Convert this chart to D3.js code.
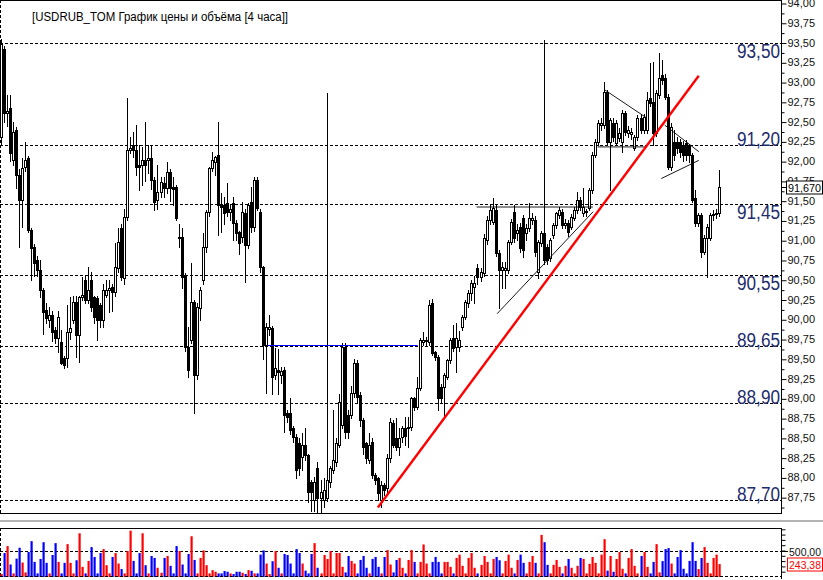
<!DOCTYPE html>
<html><head><meta charset="utf-8">
<script src="https://cdn.jsdelivr.net/npm/d3@7"></script>
<style>body{margin:0;background:#fff}svg{display:block}</style>
</head><body><svg id="c" width="823" height="580"></svg>
<script>
// ---------- data ----------
const title = "[USDRUB_TOM График цены и объёма [4 часа]]";
const opens = [
92.30,93.42,92.61,92.67,92.01,92.39,91.82,91.51,91.93,92.04,
91.13,90.91,90.75,90.62,90.37,90.12,89.99,90.05,89.86,89.76,
89.71,89.51,89.51,89.84,89.99,90.22,89.80,90.28,90.50,90.24,
90.50,90.28,90.27,90.18,89.99,90.31,90.37,90.41,90.34,90.65,
91.15,90.52,91.29,92.14,92.20,92.14,91.95,91.95,92.01,92.01,
92.04,91.76,91.51,91.61,91.72,91.66,91.86,91.67,91.67,91.03,
91.04,90.56,89.65,89.74,90.22,89.29,90.14,90.50,90.91,91.36,
91.91,91.99,92.08,91.44,91.44,91.47,91.36,91.47,91.22,91.10,
91.04,91.34,90.94,91.48,91.17,91.76,91.36,90.66,89.67,89.88,
89.89,89.29,89.36,89.30,89.36,88.81,88.81,88.62,88.51,88.43,
88.26,88.41,88.28,87.94,87.71,88.12,87.74,87.71,87.74,87.94,
88.09,88.19,88.41,88.66,89.65,88.79,88.79,89.07,89.45,89.04,
88.72,88.43,88.22,88.45,88.03,87.99,87.71,87.90,87.86,88.24,
88.69,88.50,88.38,88.51,88.62,88.62,88.64,89.00,88.89,89.13,
89.71,89.72,89.71,90.20,89.58,89.52,89.14,89.14,89.27,89.48,
89.76,89.65,89.65,89.90,90.03,90.20,90.33,90.41,90.65,90.53,
90.58,91.00,91.25,91.23,91.38,90.84,90.62,90.62,90.62,90.98,
91.36,91.09,91.17,91.28,91.09,91.15,91.25,91.25,90.60,90.96,
91.09,90.91,90.77,91.06,91.19,91.32,91.36,91.19,91.22,91.17,
91.28,91.38,91.51,91.34,91.36,91.41,91.63,92.08,92.24,92.46,
92.46,92.87,92.24,92.48,92.23,92.29,92.24,92.61,92.36,92.34,
92.17,92.30,92.55,92.39,92.39,92.80,92.75,92.36,92.84,93.09,
93.05,92.81,91.93,92.24,92.24,92.24,92.20,92.23,92.20,92.08,
91.53,91.22,91.32,90.85,91.03,91.03,91.32,91.33,91.34];
const highs = [
93.55,93.46,92.84,92.84,92.50,92.43,91.90,92.04,92.24,92.06,
91.15,90.95,90.80,90.75,90.40,90.20,90.15,90.10,89.90,90.10,
89.86,89.53,90.18,90.28,90.30,90.30,90.30,90.53,90.55,90.66,
90.60,90.30,90.30,90.20,90.45,90.50,90.50,90.45,90.97,91.15,
91.20,91.40,92.80,92.30,92.37,92.46,92.20,92.18,92.49,92.20,
92.20,91.80,91.95,91.80,91.80,91.99,91.90,91.80,91.70,91.20,
91.15,90.58,89.90,90.71,90.25,90.20,90.41,91.09,91.38,91.93,
92.11,92.07,92.49,91.60,91.55,91.72,91.45,91.55,91.25,91.12,
91.48,91.40,91.47,91.67,91.80,91.80,91.40,90.68,89.95,90.05,
89.92,89.64,89.62,89.40,89.40,88.85,89.00,88.65,88.55,88.50,
88.56,88.62,88.30,87.97,88.00,88.20,87.97,87.99,92.86,88.15,
88.85,88.50,89.05,89.70,89.70,88.85,89.15,89.50,89.48,89.08,
88.75,88.45,88.56,88.50,88.06,88.00,87.95,87.93,88.30,88.75,
88.72,88.75,88.62,88.65,88.76,88.76,89.02,89.02,89.27,89.76,
89.84,89.78,90.24,90.26,89.60,89.55,89.18,89.32,89.50,89.76,
89.93,89.95,89.85,90.05,90.25,90.37,90.50,90.55,90.70,90.65,
91.08,91.30,91.45,91.53,91.45,90.88,90.72,90.72,91.00,91.27,
91.45,91.20,91.22,91.32,91.20,91.47,91.35,91.30,91.00,91.12,
93.53,90.95,91.03,91.22,91.36,91.42,91.40,91.27,91.25,91.33,
91.42,91.61,91.55,91.66,91.40,91.66,92.12,92.28,92.52,92.55,
93.00,92.90,92.55,92.55,92.52,92.42,92.65,92.63,92.45,92.42,
92.33,92.58,92.58,92.60,92.87,93.24,93.25,92.90,93.37,93.28,
93.10,92.85,92.48,92.40,92.30,92.28,92.25,92.27,92.22,92.10,
91.63,91.35,91.35,91.06,91.20,91.35,91.38,91.40,91.89];
const lows = [
92.20,92.50,92.45,92.00,91.95,91.66,90.91,91.17,91.88,91.10,
90.50,90.55,90.55,90.28,89.82,89.95,89.90,89.73,89.70,89.58,
89.44,89.38,89.40,89.75,89.95,89.52,89.46,90.24,90.20,90.20,
90.10,89.95,89.74,89.90,89.90,90.28,90.09,90.10,90.30,90.60,
90.50,90.45,91.25,92.10,92.05,91.83,91.63,91.70,91.75,91.85,
91.65,91.38,91.40,91.55,91.55,91.60,91.50,91.45,91.25,90.91,
90.40,89.60,89.27,89.70,88.81,89.25,89.99,90.45,90.85,91.30,
91.88,91.82,91.06,91.10,91.20,91.30,91.25,91.00,91.00,90.82,
90.98,90.47,90.90,91.10,91.12,91.38,90.60,89.50,89.07,89.80,
89.06,89.25,89.06,89.20,88.57,88.70,88.55,88.45,87.99,88.03,
88.09,88.22,87.69,87.58,87.58,87.56,87.56,87.62,87.70,87.88,
88.05,88.15,88.38,88.62,88.50,88.50,88.75,89.02,88.95,88.65,
88.30,88.18,88.18,87.99,87.92,87.71,87.62,87.78,87.82,88.20,
88.38,88.35,88.28,88.45,88.41,88.38,88.60,88.85,88.86,89.10,
89.68,89.68,89.68,89.55,89.48,88.85,88.95,88.76,89.25,89.45,
89.60,89.33,89.60,89.86,90.00,90.15,90.25,90.20,90.45,90.48,
90.55,90.95,91.20,91.20,90.80,90.14,90.40,90.40,90.58,90.95,
90.98,91.00,90.85,90.79,91.00,91.12,91.20,90.80,90.52,90.93,
90.70,90.70,90.74,91.03,91.15,91.28,91.15,91.15,91.05,91.14,
91.25,91.35,91.38,91.30,91.30,91.38,91.60,92.05,92.20,92.40,
92.42,92.20,91.63,92.25,92.20,92.25,92.11,92.33,92.30,92.28,
92.14,92.27,92.35,92.36,92.35,92.70,92.20,92.32,92.80,92.98,
92.78,91.90,91.89,92.02,92.10,92.05,92.00,92.02,91.99,91.48,
91.18,91.18,90.79,90.82,90.53,91.00,91.25,91.28,91.30];
const closes = [
93.48,92.61,92.64,92.10,92.37,91.82,91.51,91.91,92.01,91.13,
90.90,90.71,90.62,90.37,90.09,90.01,90.05,89.84,89.76,90.03,
89.45,89.42,89.84,89.89,90.22,89.80,90.28,90.31,90.24,90.37,
90.15,90.03,89.99,89.99,90.37,90.37,90.39,90.34,90.66,90.98,
90.53,91.29,92.14,92.17,92.14,91.93,91.93,92.01,91.95,92.04,
91.76,91.48,91.61,91.74,91.66,91.86,91.66,91.65,91.28,91.04,
90.53,89.65,89.36,90.22,89.29,90.15,90.37,90.91,91.36,91.91,
92.01,92.05,91.44,91.42,91.34,91.36,91.40,91.22,91.09,90.96,
91.36,90.94,91.44,91.17,91.76,91.41,90.66,89.67,89.90,89.90,
89.27,89.38,89.33,89.34,88.79,88.76,88.60,88.51,88.09,88.12,
88.41,88.28,87.81,87.81,87.94,87.74,87.81,87.84,87.97,88.12,
88.22,88.43,88.95,89.65,88.57,88.57,89.07,89.45,89.02,88.72,
88.38,88.24,88.41,88.03,87.97,87.80,87.90,87.84,88.24,88.70,
88.41,88.38,88.50,88.62,88.53,88.64,89.00,88.89,89.13,89.74,
89.74,89.74,90.18,89.57,89.52,89.00,89.00,89.29,89.48,89.74,
89.64,89.76,89.74,90.03,90.22,90.33,90.46,90.46,90.53,90.60,
91.03,91.25,91.38,91.41,90.84,90.62,90.66,90.65,90.98,91.23,
91.03,91.13,90.90,90.88,91.15,91.28,91.28,90.85,90.98,91.09,
90.75,90.75,91.00,91.19,91.34,91.38,91.19,91.22,91.10,91.29,
91.38,91.51,91.42,91.42,91.37,91.63,92.08,92.24,92.48,92.48,
92.87,92.24,92.52,92.30,92.48,92.36,92.61,92.37,92.39,92.37,
92.30,92.55,92.39,92.56,92.77,92.73,92.36,92.86,93.05,93.03,
92.81,91.93,92.43,92.08,92.17,92.11,92.08,92.08,92.08,91.51,
91.22,91.32,90.85,91.03,91.17,91.32,91.33,91.34,91.67];
const volumes = [
56,452,583,236,68,347,552,273,87,471,
676,285,68,341,657,267,68,415,639,285,
68,267,620,267,68,316,825,192,68,304,
564,378,68,452,527,223,68,378,452,254,
150,68,490,874,304,68,452,825,223,68,
397,360,174,80,360,397,211,68,583,490,
236,68,434,769,322,68,360,502,223,68,
130,99,68,68,112,99,68,56,99,99,
80,56,130,118,68,68,422,502,254,56,
298,490,174,68,434,415,254,68,527,452,
254,120,68,434,639,174,68,415,341,490,
68,452,452,192,87,397,304,254,68,322,
397,174,68,341,378,192,68,378,508,236,
87,322,360,174,68,322,508,285,
68,285,614,254,68,285,378,285,68,285,
285,192,68,360,422,211,68,360,452,174,
68,229,397,285,68,341,378,316,68,304,
422,174,68,322,422,267,68,285,397,267,
68,794,657,229,68,229,322,192,68,211,
341,174,68,211,360,341,68,248,378,267,
68,422,713,120,397,99,341,471,155,68,360,
527,211,68,397,471,192,68,285,620,87,
300,527,546,254,68,378,508,155,68,304,657,
304,150,360,564,267,68,360,422,243.38];
// horizontal levels (price) and their captions
const levelPrices = [93.50, 92.20, 91.46, 90.56, 89.66, 88.94, 87.71];
const levelLabels = ["93,50", "91,20", "91,45", "90,55", "89,65", "88,90", "87,70"];
const levelBelow  = [true, false, true, true, false, false, false];
// drawn lines: [index1, price1, index2, price2]
const redTrend = [[125.0, 87.62, 231.3, 93.08]];
const blueLines = [[88.6, 89.68, 138.2, 89.68]];
const thinLines = [
  [157.7, 91.42, 196.2, 91.42],
  [164.5, 90.07, 196.3, 91.36],
  [197.8, 92.18, 214.1, 92.18],
  [200.2, 92.90, 214.1, 92.545],
  [220.0, 92.456, 231.3, 92.12],
  [218.9, 91.78, 231.3, 92.01]
];
const volTickValues = [100,200,300,400,500,600,700,800,900];
const volLabelValue = 500;

// ---------- layout ----------
const svg = d3.select("#c");
const W = 823, plotR = 781, plotT = 0, plotB = 513;
const vTop = 528, vBot = 577;
const N = closes.length;
const FONT = "Liberation Sans, Arial, sans-serif";
const x = d3.scaleLinear().domain([0, N - 1]).range([0.5, 719]);
const y = d3.scaleLinear().domain([87.55, 94.038]).range([plotB, plotT]);
const vy = d3.scaleLinear().domain([0, 500]).range([vBot, 550.5]);
const cx = i => Math.round(x(i)) + 0.5;
const fmt = v => v.toFixed(2).replace(".", ",");

svg.append("rect").attr("width", W).attr("height", 580).attr("fill", "#fff");

// ---------- level lines ----------
const lv = svg.append("g");
levelPrices.forEach((p, k) => {
  const yy = Math.round(y(p)) + 0.5;
  lv.append("line").attr("x1", 0).attr("x2", plotR).attr("y1", yy).attr("y2", yy)
    .attr("stroke", "#000").attr("stroke-dasharray", "3,2");
  lv.append("text").attr("x", 780).attr("y", levelBelow[k] ? yy + 14.5 : yy + 0.5)
    .attr("text-anchor", "end").attr("font-family", FONT)
    .attr("font-size", 19.5).attr("fill", "#1d2c6b")
    .attr("textLength", 43).attr("lengthAdjust", "spacingAndGlyphs")
    .text(levelLabels[k]);
});

// ---------- candles ----------
const cg = svg.append("g");
for (let i = 0; i < N; i++) {
  const c = cx(i);
  cg.append("line").attr("x1", c).attr("x2", c)
    .attr("y1", Math.round(y(highs[i]))).attr("y2", Math.round(y(lows[i])) + 1)
    .attr("stroke", "#000").attr("stroke-width", 1);
}
for (let i = 0; i < N; i++) {
  const c = cx(i);
  const up = closes[i] >= opens[i];
  const yT = Math.round(y(Math.max(opens[i], closes[i]))) + 0.5;
  const yB = Math.round(y(Math.min(opens[i], closes[i]))) + 0.5;
  cg.append("rect").attr("x", c - 1).attr("y", yT).attr("width", 2)
    .attr("height", Math.max(0, yB - yT))
    .attr("fill", up ? "#fff" : "#000").attr("stroke", "#000").attr("stroke-width", 1);
}

// ---------- drawn lines ----------
blueLines.forEach(l => svg.append("line").attr("x1", x(l[0])).attr("y1", Math.round(y(l[1])) + 0.5)
  .attr("x2", x(l[2])).attr("y2", Math.round(y(l[3])) + 0.5).attr("stroke", "#0000ff").attr("stroke-width", 1));
thinLines.forEach(l => svg.append("line").attr("x1", x(l[0])).attr("y1", y(l[1]))
  .attr("x2", x(l[2])).attr("y2", y(l[3])).attr("stroke", "#000").attr("stroke-width", 0.9));
redTrend.forEach(l => svg.append("line").attr("x1", x(l[0])).attr("y1", y(l[1]))
  .attr("x2", x(l[2])).attr("y2", y(l[3])).attr("stroke", "#ff0000").attr("stroke-width", 2.4));

// ---------- frame ----------
svg.append("line").attr("x1", 0.5).attr("x2", 0.5).attr("y1", 0).attr("y2", plotB)
  .attr("stroke", "#000").attr("stroke-dasharray", "3,2");
svg.append("line").attr("x1", 0).attr("x2", plotR + 0.5).attr("y1", 0.5).attr("y2", 0.5).attr("stroke", "#000");
svg.append("line").attr("x1", 0).attr("x2", plotR + 0.5).attr("y1", plotB + 0.5).attr("y2", plotB + 0.5).attr("stroke", "#000");

// title
svg.append("text").attr("x", 32).attr("y", 21).attr("font-family", FONT)
  .attr("font-size", 12).attr("fill", "#000")
  .attr("textLength", 256).attr("lengthAdjust", "spacingAndGlyphs").text(title);

// ---------- price axis ----------
const major = d3.range(87.75, 94.0001, 0.25);
const minor = d3.range(87.625, 94.0001, 0.25);
const ax = svg.append("g").attr("transform", `translate(${plotR + 0.5},0)`)
  .call(d3.axisRight(y).tickValues(major).tickFormat(fmt).tickSize(5).tickPadding(1).tickSizeOuter(0));
ax.select(".domain").attr("d", `M0,0V${plotB + 1}`);
ax.selectAll("text").attr("font-family", FONT).attr("font-size", 11).attr("fill", "#111");
ax.selectAll(".tick line").attr("transform", "translate(0,0.5)");
const axm = svg.append("g").attr("transform", `translate(${plotR + 0.5},0)`)
  .call(d3.axisRight(y).tickValues(minor).tickFormat("").tickSize(3).tickSizeOuter(0));
axm.select(".domain").remove();
axm.selectAll(".tick line").attr("transform", "translate(0,0.5)");

// last price box
const lastY = Math.round(y(closes[N - 1])) + 0.5;
svg.append("line").attr("x1", plotR).attr("x2", plotR + 6).attr("y1", lastY).attr("y2", lastY).attr("stroke", "#000");
svg.append("rect").attr("x", 786.5).attr("y", lastY - 6.5).attr("width", 36).attr("height", 13)
  .attr("fill", "#fff").attr("stroke", "#000");
svg.append("text").attr("x", 788).attr("y", lastY + 4.5).attr("font-family", FONT)
  .attr("font-size", 11).attr("fill", "#000")
  .attr("textLength", 33).attr("lengthAdjust", "spacingAndGlyphs")
  .text(closes[N - 1].toFixed(3).replace(".", ","));

// ---------- separator ----------
svg.append("rect").attr("x", 0).attr("y", 520).attr("width", W).attr("height", 2).attr("fill", "#b4b4b4");

// ---------- volume panel ----------
svg.append("line").attr("x1", 0).attr("x2", plotR + 0.5).attr("y1", vTop + 0.5).attr("y2", vTop + 0.5).attr("stroke", "#000");
svg.append("line").attr("x1", 0.5).attr("x2", 0.5).attr("y1", vTop).attr("y2", vBot).attr("stroke", "#000").attr("stroke-dasharray", "3,2");
const vly = Math.round(vy(volLabelValue)) + 0.5;
svg.append("line").attr("x1", 0).attr("x2", plotR).attr("y1", vly).attr("y2", vly)
  .attr("stroke", "#000").attr("stroke-dasharray", "3,2");
const vg = svg.append("g");
volumes.forEach((v, i) => {
  const up = closes[i] >= opens[i];
  const top = vy(v);
  vg.append("rect").attr("x", Math.round(x(i)) - 0.5).attr("y", top).attr("width", 2.2)
    .attr("height", vBot - top).attr("fill", up ? "#ff0000" : "#0000ff");
});
svg.append("line").attr("x1", 0).attr("x2", plotR).attr("y1", vBot - 0.5).attr("y2", vBot - 0.5)
  .attr("stroke", "#000").attr("stroke-dasharray", "3,2");
const vax = svg.append("g").attr("transform", `translate(${plotR + 0.5},0)`)
  .call(d3.axisRight(vy).tickValues(volTickValues).tickFormat("").tickSize(4).tickSizeOuter(0));
vax.select(".domain").attr("d", `M0,${vTop}V${vBot + 2}`);
svg.append("line").attr("x1", plotR).attr("x2", plotR + 7).attr("y1", vly).attr("y2", vly).attr("stroke", "#000");
svg.append("text").attr("x", 789).attr("y", vly + 4).attr("font-family", FONT)
  .attr("font-size", 11).attr("fill", "#111")
  .attr("textLength", 32).attr("lengthAdjust", "spacingAndGlyphs").text(fmt(volLabelValue));
const lvY = Math.round(vy(volumes[N - 1])) + 0.5;
svg.append("rect").attr("x", 787.5).attr("y", lvY - 6.5).attr("width", 35).attr("height", 13)
  .attr("fill", "#fff").attr("stroke", "#ff0000");
svg.append("text").attr("x", 789).attr("y", lvY + 4.5).attr("font-family", FONT)
  .attr("font-size", 11).attr("fill", "#ff0000")
  .attr("textLength", 32).attr("lengthAdjust", "spacingAndGlyphs").text(fmt(volumes[N - 1]));
</script></body></html>
